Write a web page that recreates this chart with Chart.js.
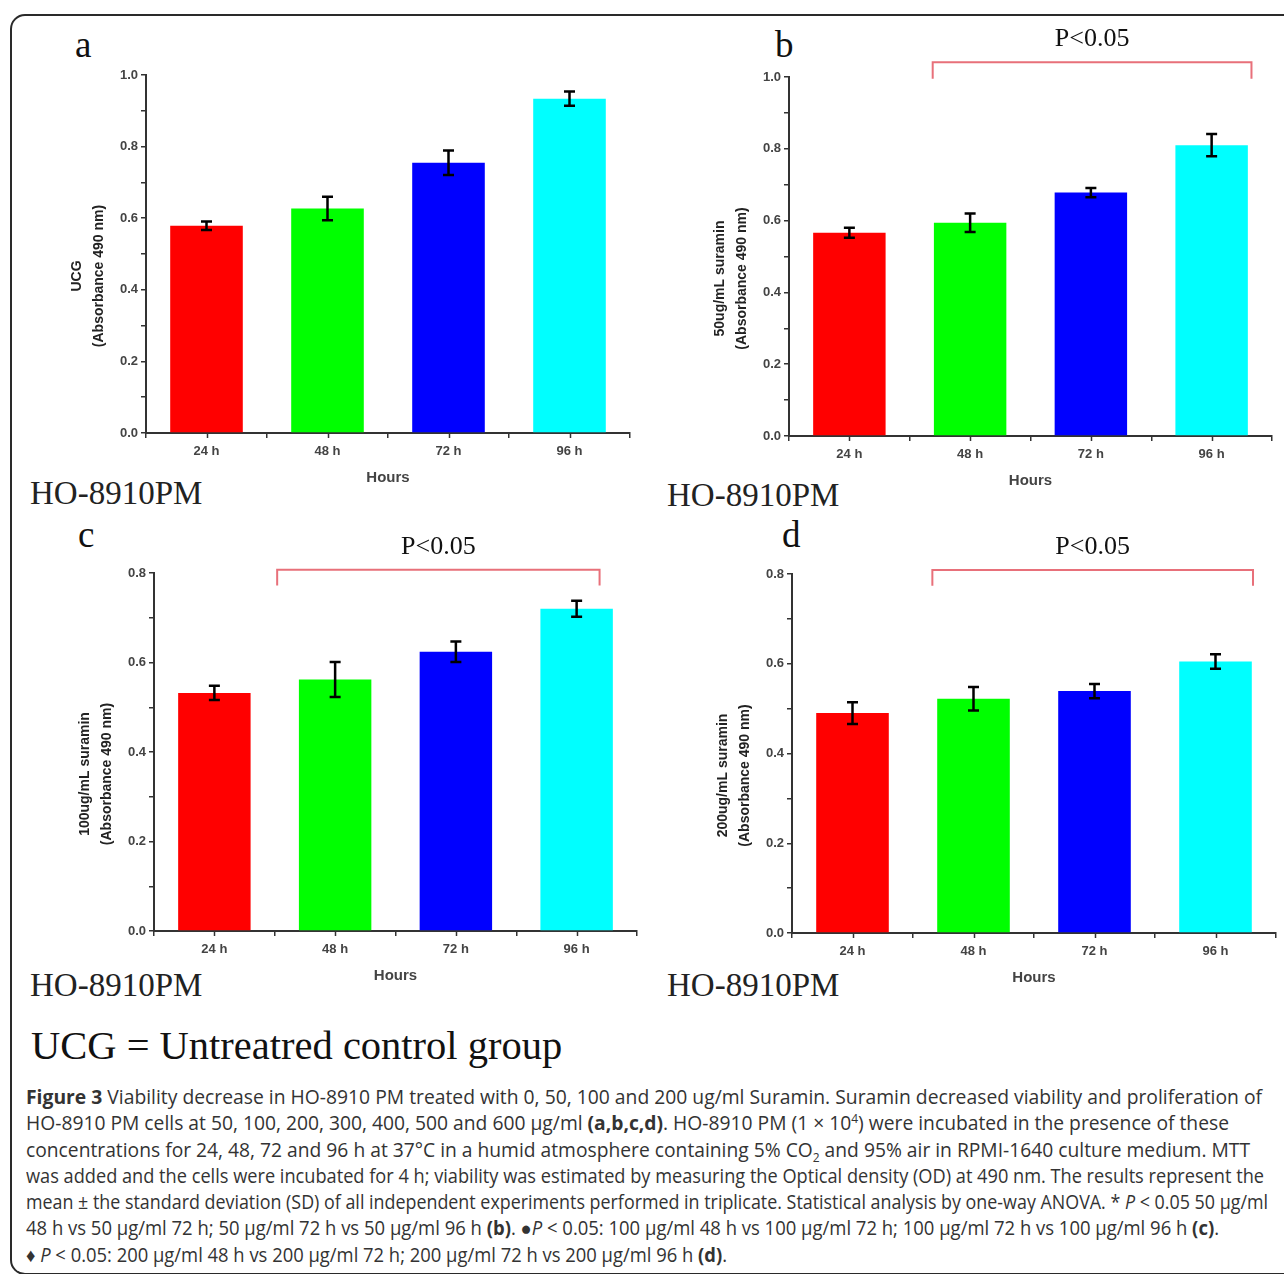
<!DOCTYPE html>
<html>
<head>
<meta charset="utf-8">
<script src="https://cdn.jsdelivr.net/npm/chart.js@4.4.1/dist/chart.umd.min.js"></script>
<style>
    html, body { margin: 0; padding: 0; background: #fff; }
    body { width: 1284px; height: 1274px; position: relative; overflow: hidden; }
    .frame { position: absolute; left: 10px; top: 14px; width: 1300px; height: 1257px; border: 2px solid #2a2a2a; border-radius: 15px; }
    .panel { position: absolute; }
    .letter { position: absolute; font-family: 'Liberation Serif', 'Times New Roman', serif; font-size: 37px; line-height: 37px; color: #111; }
    .cell { position: absolute; font-family: 'Liberation Serif', 'Times New Roman', serif; font-size: 33px; line-height: 33px; color: #222; }
    .ucg { position: absolute; left: 31px; top: 1026px; font-family: 'Liberation Serif', 'Times New Roman', serif; font-size: 40.5px; line-height: 40px; color: #111; white-space: nowrap; }
    .caption { position: absolute; left: 26px; top: 1084px; font-family: 'Open Sans', sans-serif; font-size: 19.3px; line-height: 26.3px; color: #333; }
    .caption .cl { white-space: nowrap; width: max-content; transform-origin: left top; }
    .caption sup, .caption sub { font-size: 12px; line-height: 0; }
</style>
</head>
<body>
<div class="frame"></div>

<div class="letter" style="left:75px; top:26px;">a</div>
<div class="letter" style="left:775px; top:26px;">b</div>
<div class="letter" style="left:78px; top:516px;">c</div>
<div class="letter" style="left:782px; top:516px;">d</div>

<div class="cell" style="left:30px; top:477px;">HO-8910PM</div>
<div class="cell" style="left:667px; top:479px;">HO-8910PM</div>
<div class="cell" style="left:30px; top:969px;">HO-8910PM</div>
<div class="cell" style="left:667px; top:969px;">HO-8910PM</div>

<div class="ucg">UCG = Untreatred control group</div>

<div class="caption">
<div class="cl" data-w="1236"><b>Figure 3</b> Viability decrease in HO-8910 PM treated with 0, 50, 100 and 200 ug/ml Suramin. Suramin decreased viability and proliferation of</div>
<div class="cl" data-w="1203">HO-8910 PM cells at 50, 100, 200, 300, 400, 500 and 600 μg/ml <b>(a,b,c,d)</b>. HO-8910 PM (1 × 10<sup>4</sup>) were incubated in the presence of these</div>
<div class="cl" data-w="1224">concentrations for 24, 48, 72 and 96 h at 37°C in a humid atmosphere containing 5% CO<sub>2</sub> and 95% air in RPMI-1640 culture medium. MTT</div>
<div class="cl" data-w="1238">was added and the cells were incubated for 4 h; viability was estimated by measuring the Optical density (OD) at 490 nm. The results represent the</div>
<div class="cl" data-w="1242">mean ± the standard deviation (SD) of all independent experiments performed in triplicate. Statistical analysis by one-way ANOVA. * <i>P</i> &lt; 0.05 50 μg/ml</div>
<div class="cl" data-w="1193">48 h vs 50 μg/ml 72 h; 50 μg/ml 72 h vs 50 μg/ml 96 h <b>(b)</b>. ●<i>P</i> &lt; 0.05: 100 μg/ml 48 h vs 100 μg/ml 72 h; 100 μg/ml 72 h vs 100 μg/ml 96 h <b>(c)</b>.</div>
<div class="cl" data-w="701">♦ <i>P</i> &lt; 0.05: 200 μg/ml 48 h vs 200 μg/ml 72 h; 200 μg/ml 72 h vs 200 μg/ml 96 h <b>(d)</b>.</div>
</div>

<script>
// values (absorbance at 490 nm, mean and SD)
const hours = ['24 h', '48 h', '72 h', '96 h'];
const barColors = ['#ff0000', '#00ff00', '#0000ff', '#00ffff'];

const ucgMean = [0.579, 0.627, 0.755, 0.934];
const ucgSd = [0.012, 0.033, 0.034, 0.020];

const sur50Mean = [0.566, 0.594, 0.678, 0.810];
const sur50Sd = [0.014, 0.026, 0.013, 0.031];

const sur100Mean = [0.532, 0.562, 0.624, 0.720];
const sur100Sd = [0.016, 0.039, 0.023, 0.018];

const sur200Mean = [0.490, 0.522, 0.539, 0.605];
const sur200Sd = [0.024, 0.026, 0.016, 0.016];

const PAD_TOP = 70;
const PAD_RIGHT = 10;
const Y_AXIS_W = 106;
const X_AXIS_H = 60;
const axisColor = '#333';
const labelColor = '#444';
const sansFont = "'Liberation Sans', Arial, sans-serif";

const panels = [
    {area: {l: 146, t: 75, r: 630, b: 433}, mean: ucgMean, sd: ucgSd, yMax: 1.0,
        title: ['UCG', '(Absorbance 490 nm)'], bracket: null},
    {area: {l: 789, t: 77, r: 1272, b: 436}, mean: sur50Mean, sd: sur50Sd, yMax: 1.0,
        title: ['50ug/mL suramin', '(Absorbance 490 nm)'], bracket: {from: 0.69, to: 3.33, top: 1.041, drop: 0.995}},
    {area: {l: 154, t: 573, r: 637, b: 931}, mean: sur100Mean, sd: sur100Sd, yMax: 0.8,
        title: ['100ug/mL suramin', '(Absorbance 490 nm)'], bracket: {from: 0.52, to: 3.19, top: 0.807, drop: 0.772}},
    {area: {l: 792, t: 574, r: 1276, b: 933}, mean: sur200Mean, sd: sur200Sd, yMax: 0.8,
        title: ['200ug/mL suramin', '(Absorbance 490 nm)'], bracket: {from: 0.66, to: 3.31, top: 0.809, drop: 0.774}}
];

// error bars, centre ticks, rotated y title and the P<0.05 bracket
const panelPlugin = {
    id: 'panelExtras',
    afterDatasetsDraw(chart, args, opts) {
        const ctx = chart.ctx;
        const xs = chart.scales.x;
        const ys = chart.scales.y;
        ctx.save();
        ctx.strokeStyle = '#000';
        ctx.lineWidth = 2.5;
        opts.mean.forEach((m, i) => {
            const x = xs.getPixelForValue(i);
            const yHi = ys.getPixelForValue(m + opts.sd[i]);
            const yLo = ys.getPixelForValue(m - opts.sd[i]);
            ctx.beginPath();
            ctx.moveTo(x, yHi);
            ctx.lineTo(x, yLo);
            ctx.moveTo(x - 5.5, yHi);
            ctx.lineTo(x + 5.5, yHi);
            ctx.moveTo(x - 5.5, yLo);
            ctx.lineTo(x + 5.5, yLo);
            ctx.stroke();
        });
        ctx.restore();
    },
    afterDraw(chart, args, opts) {
        const ctx = chart.ctx;
        const xs = chart.scales.x;
        const ys = chart.scales.y;
        const area = chart.chartArea;
        ctx.save();

        // tick marks under each category centre
        ctx.strokeStyle = axisColor;
        ctx.lineWidth = 1.5;
        hours.forEach((h, i) => {
            const x = Math.round(xs.getPixelForValue(i)) + 0.5;
            ctx.beginPath();
            ctx.moveTo(x, area.bottom);
            ctx.lineTo(x, area.bottom + 5);
            ctx.stroke();
        });

        // y axis title, two rotated lines
        ctx.fillStyle = '#222';
        ctx.font = 'bold 14px ' + sansFont;
        ctx.textAlign = 'center';
        ctx.textBaseline = 'middle';
        const midY = (area.top + area.bottom) / 2 + 22;
        [69, 47].forEach((dx, k) => {
            ctx.save();
            ctx.translate(area.left - dx, midY);
            ctx.rotate(-Math.PI / 2);
            ctx.fillText(opts.title[k], 0, 0);
            ctx.restore();
        });

        const br = opts.bracket;
        if (br) {
            const x1 = xs.getPixelForValue(br.from);
            const x2 = xs.getPixelForValue(br.to);
            const yTop = ys.getPixelForValue(br.top);
            const yDrop = ys.getPixelForValue(br.drop);
            ctx.strokeStyle = '#e8707a';
            ctx.lineWidth = 2;
            ctx.beginPath();
            ctx.moveTo(x1, yDrop);
            ctx.lineTo(x1, yTop);
            ctx.lineTo(x2, yTop);
            ctx.lineTo(x2, yDrop);
            ctx.stroke();

            ctx.fillStyle = '#111';
            ctx.font = "26px 'Liberation Serif', 'Times New Roman', serif";
            ctx.fillText('P<0.05', (x1 + x2) / 2, yTop - 23);
        }
        ctx.restore();
    }
};

function createPanel(p) {
    const width = Y_AXIS_W + (p.area.r - p.area.l) + PAD_RIGHT;
    const height = PAD_TOP + (p.area.b - p.area.t) + X_AXIS_H;
    const holder = document.createElement('div');
    holder.className = 'panel';
    holder.style.left = (p.area.l - Y_AXIS_W) + 'px';
    holder.style.top = (p.area.t - PAD_TOP) + 'px';
    holder.style.width = width + 'px';
    holder.style.height = height + 'px';
    const canvas = document.createElement('canvas');
    canvas.width = width;
    canvas.height = height;
    holder.appendChild(canvas);
    document.body.appendChild(holder);

    new Chart(canvas.getContext('2d'), {
        type: 'bar',
        data: {
            labels: hours,
            datasets: [{
                data: p.mean,
                backgroundColor: barColors,
                borderWidth: 0,
                barPercentage: 0.6,
                categoryPercentage: 1
            }]
        },
        options: {
            responsive: false,
            animation: false,
            layout: {padding: {top: PAD_TOP, right: PAD_RIGHT, left: 0, bottom: 0}},
            plugins: {
                legend: {display: false},
                tooltip: {enabled: false},
                panelExtras: {mean: p.mean, sd: p.sd, title: p.title, bracket: p.bracket}
            },
            scales: {
                x: {
                    offset: true,
                    grid: {drawOnChartArea: false, offset: true, tickLength: 5, color: axisColor, lineWidth: 1.5},
                    border: {color: axisColor, width: 2},
                    ticks: {color: labelColor, padding: 6, font: {family: sansFont, size: 13, weight: 'bold'}},
                    title: {display: true, text: 'Hours', color: labelColor, font: {family: sansFont, size: 15, weight: 'bold'}, padding: {top: 0, bottom: 6}},
                    afterFit: scale => { scale.height = X_AXIS_H; }
                },
                y: {
                    min: 0,
                    max: p.yMax,
                    grid: {drawOnChartArea: false, tickLength: 5, color: axisColor, lineWidth: 1.5},
                    border: {color: axisColor, width: 2},
                    ticks: {
                        stepSize: 0.1,
                        autoSkip: false,
                        padding: 3,
                        color: labelColor,
                        font: {family: sansFont, size: 13, weight: 'bold'},
                        callback: v => (Math.round(v * 10) % 2 === 0 ? v.toFixed(1) : '')
                    },
                    afterFit: scale => { scale.width = Y_AXIS_W; }
                }
            }
        },
        plugins: [panelPlugin]
    });
}

panels.forEach(createPanel);

// squeeze each caption line to the width it has in the printed figure
function fitCaption() {
    document.querySelectorAll('.caption .cl').forEach(line => {
        line.style.transform = 'none';
        const natural = line.getBoundingClientRect().width;
        const target = parseFloat(line.dataset.w);
        line.style.transform = `scaleX(${target / natural})`;
    });
}
fitCaption();
document.fonts.ready.then(fitCaption);
</script>
</body>
</html>
